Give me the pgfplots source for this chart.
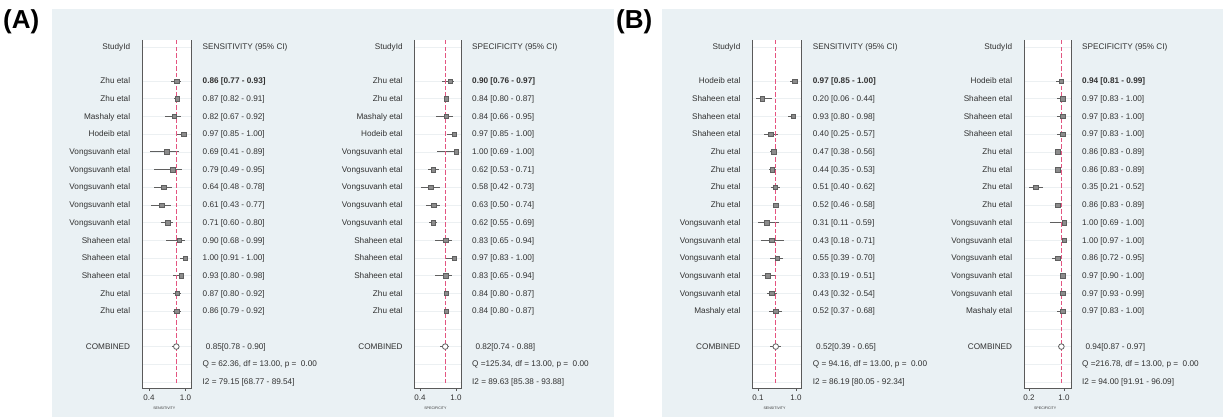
\documentclass[border=0pt]{standalone}
\usepackage{pgfplots}
\pgfplotsset{compat=1.18}
\usepackage{pgfplotstable}
\usepackage{fontspec}
\setmainfont{Liberation Sans}
\definecolor{bg}{RGB}{234,241,244}
\definecolor{txt}{RGB}{50,50,50}
\definecolor{frm}{RGB}{90,90,90}
\definecolor{ci}{RGB}{95,95,95}
\definecolor{sq}{RGB}{140,140,140}
\definecolor{pinkA}{RGB}{228,84,128}
\definecolor{pinkB}{RGB}{227,85,129}
\definecolor{pinkC}{RGB}{229,83,127}
\definecolor{pinkD}{RGB}{226,86,130}
\definecolor{grd}{RGB}{236,240,242}

% ---------- data: row, estimate, lower, upper ----------
\pgfplotstableread{
row est lo hi
1 0.86 0.77 0.93
2 0.87 0.82 0.91
3 0.82 0.67 0.92
4 0.97 0.85 1.00
5 0.69 0.41 0.89
6 0.79 0.49 0.95
7 0.64 0.48 0.78
8 0.61 0.43 0.77
9 0.71 0.60 0.80
10 0.90 0.68 0.99
11 1.00 0.91 1.00
12 0.93 0.80 0.98
13 0.87 0.80 0.92
14 0.86 0.79 0.92
}\Asens
\pgfplotstableread{
row est lo hi
1 0.90 0.76 0.97
2 0.84 0.80 0.87
3 0.84 0.66 0.95
4 0.97 0.85 1.00
5 1.00 0.69 1.00
6 0.62 0.53 0.71
7 0.58 0.42 0.73
8 0.63 0.50 0.74
9 0.62 0.55 0.69
10 0.83 0.65 0.94
11 0.97 0.83 1.00
12 0.83 0.65 0.94
13 0.84 0.80 0.87
14 0.84 0.80 0.87
}\Aspec
\pgfplotstableread{
row est lo hi
1 0.97 0.85 1.00
2 0.20 0.06 0.44
3 0.93 0.80 0.98
4 0.40 0.25 0.57
5 0.47 0.38 0.56
6 0.44 0.35 0.53
7 0.51 0.40 0.62
8 0.52 0.46 0.58
9 0.31 0.11 0.59
10 0.43 0.18 0.71
11 0.55 0.39 0.70
12 0.33 0.19 0.51
13 0.43 0.32 0.54
14 0.52 0.37 0.68
}\Bsens
\pgfplotstableread{
row est lo hi
1 0.94 0.81 0.99
2 0.97 0.83 1.00
3 0.97 0.83 1.00
4 0.97 0.83 1.00
5 0.86 0.83 0.89
6 0.86 0.83 0.89
7 0.35 0.21 0.52
8 0.86 0.83 0.89
9 1.00 0.69 1.00
10 1.00 0.97 1.00
11 0.86 0.72 0.95
12 0.97 0.90 1.00
13 0.97 0.93 0.99
14 0.97 0.83 1.00
}\Bspec

\tikzset{lbl/.style={font=\fontsize{8.2}{9}\selectfont, text=txt, inner sep=0pt}}

\pgfplotsset{forest/.style={
  scale only axis, anchor=south west, height=348pt,
  y dir=reverse, ymin=-1.32, ymax=18.34,
  axis line style={draw=none},
  axis background/.style={fill=white},
  ytick={-0.92,1,2,...,18}, yticklabels={}, ytick style={draw=none},
  ymajorgrids, major grid style={draw=grd, line width=0.7pt},
  xtick pos=left, tick align=outside, major tick length=3pt,
  xtick style={draw=frm, line width=0.8pt},
  xticklabel style={font=\fontsize{8}{9}\selectfont, text=txt, inner sep=1pt, yshift=-3pt},
  clip=false}}

\newcommand\leftlab[1]{\foreach \r/\n in {#1}{\edef\tmp{\noexpand\node[lbl,anchor=mid east,xshift=-11.7pt] at (axis cs:\pgfkeysvalueof{/pgfplots/xmin},\r) {\n};}\tmp}}
\newcommand\rightlab[1]{\foreach \r/\n in {#1}{\edef\tmp{\noexpand\node[lbl,anchor=mid west,xshift=11pt] at (axis cs:\pgfkeysvalueof{/pgfplots/xmax},\r) {\n};}\tmp}}
\newcommand\firstlab[1]{\node[lbl,anchor=mid west,xshift=11pt,font=\fontsize{8.2}{9}\selectfont\bfseries] at (axis cs:\pgfkeysvalueof{/pgfplots/xmax},1) {#1};}
\newcommand\comblab[1]{\node[lbl,anchor=mid west,xshift=14.3pt] at (axis cs:\pgfkeysvalueof{/pgfplots/xmax},16) {#1};}
\newcommand\frameit[1]{%
  \draw[frm, line width=1pt] (axis description cs:0,1) -- (axis description cs:0,0) -- (axis description cs:1,0) -- (axis description cs:1,1);
  \node[font=\fontsize{3.6}{4}\selectfont, text=txt, inner sep=0pt, yshift=-20pt] at (axis description cs:0.45,0) {#1};}
% dashed pooled-estimate line built from filled dashes: #1 estimate, #2 colour
\newcommand\refdash[2]{\foreach \yy in {-1.32,-0.952,...,17.9}{\edef\tmp{\noexpand\fill[#2] (axis cs:#1,\yy) ++(-0.7pt,0pt) rectangle ++(1.4pt,-4.5pt);}\tmp}}
% #1 table, #2 combined est, #3 lo, #4 hi, #5 colour of the pooled-estimate line
\newcommand\forestplots[5]{%
  \addplot[draw=none, mark=none, error bars/.cd, x dir=both, x explicit, error mark=none,
    error bar style={draw=ci, line width=0.9pt, solid}]
    table[x=est, y=row, x error plus expr=\thisrow{hi}-\thisrow{est}, x error minus expr=\thisrow{est}-\thisrow{lo}] {#1};
  \addplot[only marks, mark=square*, mark size=2.2pt, mark options={fill=sq, draw=ci, line width=0.5pt}] table[x=est, y=row] {#1};
  \addplot[draw=ci, line width=0.9pt, mark=none] coordinates {(#3,16) (#4,16)};
  \addplot[only marks, mark=*, mark size=2.8pt, mark options={fill=white, draw=ci, line width=0.8pt}] coordinates {(#2,16)};
  \refdash{#2}{#5}
}

\begin{document}
\begin{tikzpicture}
\fill[white] (0pt,0pt) rectangle (1223pt,417pt);
\useasboundingbox (0pt,0pt) rectangle (1223pt,417pt);
\fill[bg] (52pt,0pt) rectangle (614pt,408pt);
\fill[bg] (662pt,0pt) rectangle (1223pt,408pt);
\node[anchor=base west, font=\fontsize{26}{28}\selectfont\bfseries, inner sep=0pt] at (3pt,388pt) {(A)};
\node[anchor=base west, font=\fontsize{26}{28}\selectfont\bfseries, inner sep=0pt] at (616pt,388pt) {(B)};

% ===== A: sensitivity =====
\begin{axis}[forest, at={(142pt,29pt)}, width=49.5pt, xmin=0.285, xmax=1.1, xtick={0.4,1.0}, xticklabels={0.4,1.0}]
\forestplots{\Asens}{0.85}{0.78}{0.90}{pinkA}
\frameit{SENSITIVITY}
\leftlab{-0.92/StudyId, 1/Zhu etal, 2/Zhu etal, 3/Mashaly etal, 4/Hodeib etal, 5/Vongsuvanh etal, 6/Vongsuvanh etal, 7/Vongsuvanh etal, 8/Vongsuvanh etal, 9/Vongsuvanh etal, 10/Shaheen etal, 11/Shaheen etal, 12/Shaheen etal, 13/Zhu etal, 14/Zhu etal, 16/COMBINED}
\firstlab{0.86 [0.77 - 0.93]}
\rightlab{-0.92/SENSITIVITY (95\% CI), 2/0.87 [0.82 - 0.91], 3/0.82 [0.67 - 0.92], 4/0.97 [0.85 - 1.00], 5/0.69 [0.41 - 0.89], 6/0.79 [0.49 - 0.95], 7/0.64 [0.48 - 0.78], 8/0.61 [0.43 - 0.77], 9/0.71 [0.60 - 0.80], 10/0.90 [0.68 - 0.99], 11/1.00 [0.91 - 1.00], 12/0.93 [0.80 - 0.98], 13/0.87 [0.80 - 0.92], 14/0.86 [0.79 - 0.92], 17/{Q = 62.36, df = 13.00, p = \ 0.00}, 18/I2 = 79.15 [68.77 - 89.54]}
\comblab{0.85[0.78 - 0.90]}
\end{axis}

% ===== A: specificity =====
\begin{axis}[forest, at={(414.5pt,29pt)}, width=46.5pt, xmin=0.308, xmax=1.083, xtick={0.4,1.0}, xticklabels={0.4,1.0}]
\forestplots{\Aspec}{0.82}{0.74}{0.88}{pinkB}
\frameit{SPECIFICITY}
\leftlab{-0.92/StudyId, 1/Zhu etal, 2/Zhu etal, 3/Mashaly etal, 4/Hodeib etal, 5/Vongsuvanh etal, 6/Vongsuvanh etal, 7/Vongsuvanh etal, 8/Vongsuvanh etal, 9/Vongsuvanh etal, 10/Shaheen etal, 11/Shaheen etal, 12/Shaheen etal, 13/Zhu etal, 14/Zhu etal, 16/COMBINED}
\firstlab{0.90 [0.76 - 0.97]}
\rightlab{-0.92/SPECIFICITY (95\% CI), 2/0.84 [0.80 - 0.87], 3/0.84 [0.66 - 0.95], 4/0.97 [0.85 - 1.00], 5/1.00 [0.69 - 1.00], 6/0.62 [0.53 - 0.71], 7/0.58 [0.42 - 0.73], 8/0.63 [0.50 - 0.74], 9/0.62 [0.55 - 0.69], 10/0.83 [0.65 - 0.94], 11/0.97 [0.83 - 1.00], 12/0.83 [0.65 - 0.94], 13/0.84 [0.80 - 0.87], 14/0.84 [0.80 - 0.87], 17/{Q =125.34, df = 13.00, p = \ 0.00}, 18/I2 = 89.63 [85.38 - 93.88]}
\comblab{0.82[0.74 - 0.88]}
\end{axis}

% ===== B: sensitivity =====
\begin{axis}[forest, at={(752.3pt,29pt)}, width=49.4pt, xmin=-0.035, xmax=1.135, xtick={0.1,1.0}, xticklabels={0.1,1.0}]
\forestplots{\Bsens}{0.52}{0.39}{0.65}{pinkC}
\frameit{SENSITIVITY}
\leftlab{-0.92/StudyId, 1/Hodeib etal, 2/Shaheen etal, 3/Shaheen etal, 4/Shaheen etal, 5/Zhu etal, 6/Zhu etal, 7/Zhu etal, 8/Zhu etal, 9/Vongsuvanh etal, 10/Vongsuvanh etal, 11/Vongsuvanh etal, 12/Vongsuvanh etal, 13/Vongsuvanh etal, 14/Mashaly etal, 16/COMBINED}
\firstlab{0.97 [0.85 - 1.00]}
\rightlab{-0.92/SENSITIVITY (95\% CI), 2/0.20 [0.06 - 0.44], 3/0.93 [0.80 - 0.98], 4/0.40 [0.25 - 0.57], 5/0.47 [0.38 - 0.56], 6/0.44 [0.35 - 0.53], 7/0.51 [0.40 - 0.62], 8/0.52 [0.46 - 0.58], 9/0.31 [0.11 - 0.59], 10/0.43 [0.18 - 0.71], 11/0.55 [0.39 - 0.70], 12/0.33 [0.19 - 0.51], 13/0.43 [0.32 - 0.54], 14/0.52 [0.37 - 0.68], 17/{Q = 94.16, df = 13.00, p = \ 0.00}, 18/I2 = 86.19 [80.05 - 92.34]}
\comblab{0.52[0.39 - 0.65]}
\end{axis}

% ===== B: specificity =====
\begin{axis}[forest, at={(1024pt,29pt)}, width=47pt, xmin=0.086, xmax=1.16, xtick={0.2,1.0}, xticklabels={0.2,1.0}]
\forestplots{\Bspec}{0.94}{0.87}{0.97}{pinkD}
\frameit{SPECIFICITY}
\leftlab{-0.92/StudyId, 1/Hodeib etal, 2/Shaheen etal, 3/Shaheen etal, 4/Shaheen etal, 5/Zhu etal, 6/Zhu etal, 7/Zhu etal, 8/Zhu etal, 9/Vongsuvanh etal, 10/Vongsuvanh etal, 11/Vongsuvanh etal, 12/Vongsuvanh etal, 13/Vongsuvanh etal, 14/Mashaly etal, 16/COMBINED}
\firstlab{0.94 [0.81 - 0.99]}
\rightlab{-0.92/SPECIFICITY (95\% CI), 2/0.97 [0.83 - 1.00], 3/0.97 [0.83 - 1.00], 4/0.97 [0.83 - 1.00], 5/0.86 [0.83 - 0.89], 6/0.86 [0.83 - 0.89], 7/0.35 [0.21 - 0.52], 8/0.86 [0.83 - 0.89], 9/1.00 [0.69 - 1.00], 10/1.00 [0.97 - 1.00], 11/0.86 [0.72 - 0.95], 12/0.97 [0.90 - 1.00], 13/0.97 [0.93 - 0.99], 14/0.97 [0.83 - 1.00], 17/{Q =216.78, df = 13.00, p = \ 0.00}, 18/I2 = 94.00 [91.91 - 96.09]}
\comblab{0.94[0.87 - 0.97]}
\end{axis}
\end{tikzpicture}
\end{document}
